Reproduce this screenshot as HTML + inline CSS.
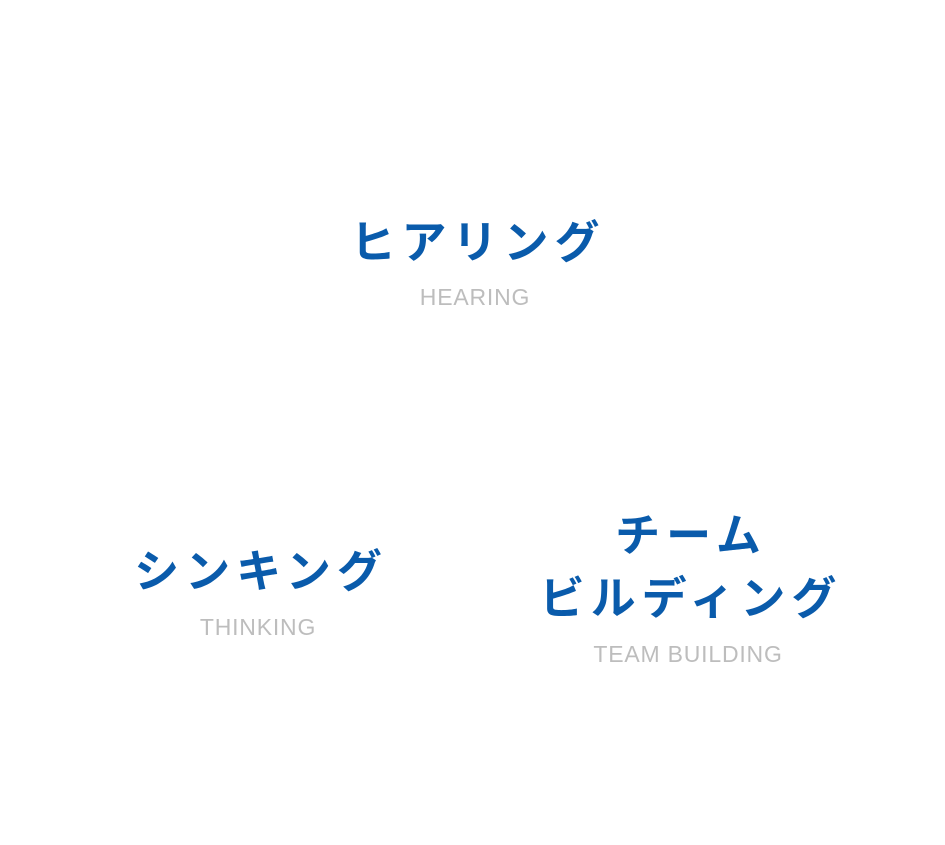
<!DOCTYPE html>
<html><head><meta charset="utf-8"><style>
html,body{margin:0;padding:0;background:#fff;}
body{width:945px;height:845px;position:relative;overflow:hidden;}
.j{position:absolute;width:500px;text-align:center;font-family:"Liberation Sans","Noto Sans CJK JP",sans-serif;font-weight:bold;font-size:45px;letter-spacing:6px;color:#0a5bab;line-height:63px;}
.e{position:absolute;width:400px;text-align:center;font-family:"Liberation Sans",sans-serif;font-size:23px;color:#bdbdbd;line-height:26px;letter-spacing:0.8px;}
</style></head><body>
<div class="j" style="left:228px;top:211px;">ヒアリング</div>
<div class="e" style="left:275px;top:284px;">HEARING</div>
<div class="j" style="left:11px;top:540px;">シンキング</div>
<div class="e" style="left:58px;top:614px;">THINKING</div>
<div class="j" style="left:441px;top:504px;">チーム<br>ビルディング</div>
<div class="e" style="left:488px;top:641px;">TEAM BUILDING</div>
</body></html>
